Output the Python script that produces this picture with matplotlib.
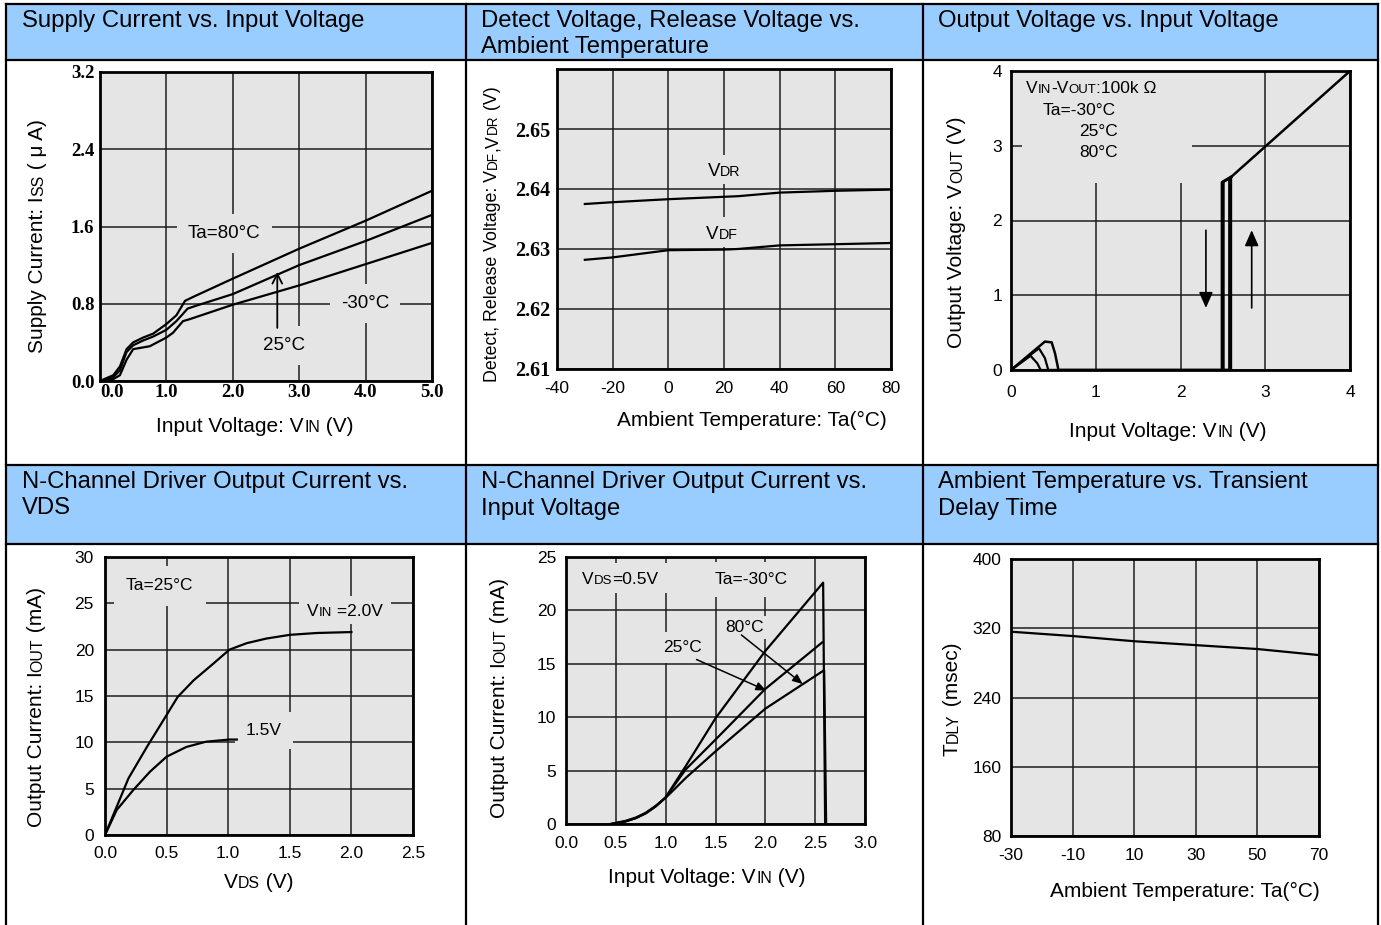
import matplotlib
matplotlib.use("Agg")
import matplotlib.pyplot as plt
from matplotlib.patches import Rectangle
from matplotlib.lines import Line2D
from matplotlib import ft2font
from matplotlib.font_manager import findfont, FontProperties

# ---------------- data ----------------
titles = [
    ["Supply Current vs. Input Voltage"],
    ["Detect Voltage, Release Voltage vs.", "Ambient Temperature"],
    ["Output Voltage vs. Input Voltage"],
    ["N-Channel Driver Output Current vs.", "VDS"],
    ["N-Channel Driver Output Current vs.", "Input Voltage"],
    ["Ambient Temperature vs. Transient", "Delay Time"],
]

# Panel 1: supply current vs input voltage
p1_xticks = [0, 1, 2, 3, 4, 5]
p1_xticklabels = ["0.0", "1.0", "2.0", "3.0", "4.0", "5.0"]
p1_yticks = [0.0, 0.8, 1.6, 2.4, 3.2]
p1_yticklabels = ["0.0", "0.8", "1.6", "2.4", "3.2"]
p1_vin_80 = [0, 0.2, 0.3, 0.4, 0.5, 0.65, 0.8, 1.0, 1.15, 1.28, 1.4, 2.0, 3.0, 4.0, 5.0]
p1_iss_80 = [0, 0.06, 0.15, 0.33, 0.40, 0.45, 0.49, 0.59, 0.68, 0.83, 0.87, 1.06, 1.37, 1.66, 1.97]
p1_vin_25 = [0, 0.2, 0.3, 0.4, 0.5, 0.65, 0.8, 1.0, 1.15, 1.32, 1.45, 2.0, 3.0, 4.0, 5.0]
p1_iss_25 = [0, 0.04, 0.11, 0.30, 0.37, 0.42, 0.46, 0.53, 0.62, 0.75, 0.78, 0.90, 1.20, 1.45, 1.72]
p1_vin_m30 = [0, 0.2, 0.3, 0.4, 0.5, 0.75, 1.0, 1.1, 1.25, 1.35, 2.0, 3.0, 4.0, 5.0]
p1_iss_m30 = [0, 0.02, 0.06, 0.22, 0.33, 0.36, 0.45, 0.50, 0.62, 0.64, 0.79, 0.99, 1.21, 1.43]

# Panel 2: detect / release voltage vs temperature
p2_xticks = [-40, -20, 0, 20, 40, 60, 80]
p2_xticklabels = ["-40", "-20", "0", "20", "40", "60", "80"]
p2_yticks = [2.61, 2.62, 2.63, 2.64, 2.65]
p2_yticklabels = ["2.61", "2.62", "2.63", "2.64", "2.65"]
p2_ta = [-30, -20, 0, 20, 25, 40, 60, 80]
p2_vdr = [2.6375, 2.6378, 2.6383, 2.6387, 2.6388, 2.6394, 2.6397, 2.6399]
p2_vdf = [2.6282, 2.6286, 2.6298, 2.6299, 2.6300, 2.6306, 2.6308, 2.6310]

# Panel 3: output voltage vs input voltage
p3_ticks = [0, 1, 2, 3, 4]
p3_ticklabels = ["0", "1", "2", "3", "4"]
p3_vin_m30 = [0.0, 0.23, 0.31, 0.35, 2.575, 2.575]
p3_vout_m30 = [0.0, 0.19, 0.09, 0.0, 0.0, 2.56]
p3_vin_25 = [0.0, 0.33, 0.40, 0.44, 2.585, 2.585]
p3_vout_25 = [0.0, 0.29, 0.16, 0.0, 0.0, 2.57]
p3_vin_80 = [0.0, 0.40, 0.48, 0.52, 0.56, 2.595, 2.595, 4.0]
p3_vout_80 = [0.0, 0.38, 0.37, 0.22, 0.0, 0.0, 2.58, 4.0]
p3_det_vin_a = [2.595, 2.49, 2.49]
p3_det_vout_a = [2.58, 2.51, 0.0]
p3_det_vin_b = [2.595, 2.505, 2.505]
p3_det_vout_b = [2.58, 2.52, 0.0]

# Panel 4: output current vs VDS
p4_xticks = [0, 0.5, 1.0, 1.5, 2.0, 2.5]
p4_xticklabels = ["0.0", "0.5", "1.0", "1.5", "2.0", "2.5"]
p4_yticks = [0, 5, 10, 15, 20, 25, 30]
p4_yticklabels = ["0", "5", "10", "15", "20", "25", "30"]
p4_vds_20 = [0, 0.19, 0.34, 0.5, 0.59, 0.72, 0.88, 1.01, 1.15, 1.31, 1.5, 1.72, 2.0]
p4_iout_20 = [0, 6.1, 9.5, 12.95, 14.9, 16.7, 18.5, 20.0, 20.7, 21.2, 21.6, 21.8, 21.9]
p4_vds_15 = [0, 0.095, 0.23, 0.365, 0.5, 0.66, 0.82, 1.01, 1.07]
p4_iout_15 = [0, 2.7, 4.86, 6.83, 8.45, 9.5, 10.07, 10.3, 10.3]

# Panel 5: output current vs input voltage
p5_xticks = [0, 0.5, 1.0, 1.5, 2.0, 2.5, 3.0]
p5_xticklabels = ["0.0", "0.5", "1.0", "1.5", "2.0", "2.5", "3.0"]
p5_yticks = [0, 5, 10, 15, 20, 25]
p5_yticklabels = ["0", "5", "10", "15", "20", "25"]
p5_vin_m30 = [0.45, 0.6, 0.7, 0.8, 0.9, 1.0, 1.2, 1.5, 2.0, 2.58, 2.60]
p5_iout_m30 = [0, 0.25, 0.55, 1.0, 1.65, 2.5, 5.4, 9.9, 16.2, 22.6, 0]
p5_vin_25 = [0.45, 0.6, 0.7, 0.8, 0.9, 1.0, 1.2, 1.5, 2.0, 2.57]
p5_iout_25 = [0, 0.25, 0.55, 1.0, 1.65, 2.5, 5.1, 7.9, 12.65, 17.0]
p5_vin_80 = [0.45, 0.6, 0.7, 0.8, 0.9, 1.0, 1.2, 1.5, 2.0, 2.59, 2.61]
p5_iout_80 = [0, 0.3, 0.6, 1.05, 1.7, 2.45, 4.3, 6.8, 10.8, 14.4, 0]

# Panel 6: delay time vs temperature
p6_xticks = [-30, -10, 10, 30, 50, 70]
p6_xticklabels = ["-30", "-10", "10", "30", "50", "70"]
p6_yticks = [80, 160, 240, 320, 400]
p6_yticklabels = ["80", "160", "240", "320", "400"]
p6_ta = [-30, -10, 10, 30, 50, 70]
p6_tdly = [316, 311, 305, 300.5, 296, 289]

# ---------------- figure ----------------
W, H = 1381, 925
plt.rcParams['font.family'] = ['Liberation Sans', 'DejaVu Sans']
fig = plt.figure(figsize=(W / 100, H / 100), dpi=100)
fig.patch.set_facecolor('white')

SERIF = ['Liberation Serif', 'DejaVu Serif']
BG = '#e5e5e5'
HEAD = '#99ccff'
GRID = '#1e1e1e'
SC = 0.76
LW = 1.6

_FONT = ft2font.FT2Font(findfont(FontProperties(family='Liberation Sans')))


def fx(x):
    return x / W


def fy(y):
    return 1.0 - y / H


def seg_advance(s, size):
    """Pen advance (px) of string s at the given point size."""
    _FONT.set_size(size, 100)
    pen = 0.0
    for c in s:
        g = _FONT.load_char(ord(c))
        pen += g.linearHoriAdvance / 65536.0
    return pen


def sc_text(cont, x, y, parts, size, rot=0, ha='center', bg=None, pad=0, zorder=3):
    """Text with small-caps segments; (x, y) = anchor on baseline in image pixels."""
    advs = [seg_advance(s, size * (SC if small else 1.0)) for s, small in parts]
    total = sum(advs)
    start = {'center': -total / 2, 'left': 0.0, 'right': -total}[ha]
    pen = start
    for (s, small), adv in zip(parts, advs):
        if rot == 0:
            xx, yy = x + pen, y
        else:
            xx, yy = x, y - pen
        cont.text(fx(xx), fy(yy), s, fontsize=size * (SC if small else 1.0),
                  rotation=rot, rotation_mode='anchor', ha='left', va='baseline',
                  transform=fig.transFigure, zorder=zorder)
        pen += adv
    if bg is not None:
        cap = size * 100 / 72 * 0.72
        x0 = x + start - pad
        x1 = x + start + total + pad
        y0 = y - cap - pad
        y1 = y + pad
        cont.add_patch(Rectangle((fx(x0), fy(y1)), (x1 - x0) / W, (y1 - y0) / H,
                                 transform=fig.transFigure, facecolor=bg,
                                 edgecolor='none', zorder=zorder - 0.5))


def make_ax(l, t, r, b):
    ax = fig.add_axes([fx(l), fy(b), (r - l) / W, (b - t) / H])
    ax.set_facecolor(BG)
    for s in ax.spines.values():
        s.set_linewidth(2.0)
        s.set_color('black')
    ax.grid(True, color=GRID, linewidth=1.1)
    ax.set_axisbelow(True)
    ax.tick_params(length=0, colors='black')
    return ax


def atext(ax, x, y, s, size, bbox_pad=None):
    kw = {}
    if bbox_pad is not None:
        kw['bbox'] = dict(facecolor=BG, edgecolor='none', pad=bbox_pad)
    ax.text(fx(x), fy(y), s, fontsize=size, ha='left', va='baseline',
            transform=fig.transFigure, zorder=1.5, **kw)


# table: header fills and borders
for y0, y1 in [(4, 60), (465, 544)]:
    fig.add_artist(Rectangle((fx(6), fy(y1)), (1378 - 6) / W, (y1 - y0) / H,
                             transform=fig.transFigure, facecolor=HEAD,
                             edgecolor='none', zorder=0))
for x in [6, 466, 923, 1378]:
    fig.add_artist(Line2D([fx(x), fx(x)], [fy(4), fy(925)], transform=fig.transFigure,
                          color='black', lw=1.6))
for y in [4, 60, 465, 544]:
    fig.add_artist(Line2D([fx(6), fx(1378)], [fy(y), fy(y)], transform=fig.transFigure,
                          color='black', lw=1.6))

head_pos = [(22, 27), (481, 27), (938, 27), (22, 488), (481, 488), (938, 488)]
for (x, y), lines in zip(head_pos, titles):
    for i, s in enumerate(lines):
        fig.text(fx(x), fy(y + 26.5 * i), s, fontsize=17.2, ha='left', va='baseline')

# ---------------- panel 1 ----------------
ax1 = make_ax(100, 72, 432, 381)
ax1.set_xlim(0, 5)
ax1.set_ylim(0, 3.2)
ax1.set_xticks(p1_xticks, p1_xticklabels, fontfamily=SERIF, fontweight='bold', fontsize=13.5)
ax1.set_yticks(p1_yticks, p1_yticklabels, fontfamily=SERIF, fontweight='bold', fontsize=13.5)
ax1.tick_params(axis='x', pad=2)
ax1.tick_params(axis='y', pad=4)
ax1.get_xticklabels()[0].set_ha('left')
ax1.plot(p1_vin_80, p1_iss_80, color='black', lw=LW)
ax1.plot(p1_vin_25, p1_iss_25, color='black', lw=LW)
ax1.plot(p1_vin_m30, p1_iss_m30, color='black', lw=LW)
atext(ax1, 188, 238, "Ta=80°C", 13.5, bbox_pad=8)
atext(ax1, 341, 308, "-30°C", 13.5, bbox_pad=8)
atext(ax1, 263, 350, "25°C", 13.5, bbox_pad=8)
ax1.annotate('', xy=(2.67, 1.13), xytext=(2.67, 0.55),
             arrowprops=dict(arrowstyle='->,head_length=0.7,head_width=0.35',
                             color='black', lw=1.3, shrinkA=0, shrinkB=0))
sc_text(fig, 255, 432, [("Input Voltage: V", 0), ("IN", 1), (" (V)", 0)], 15)
sc_text(fig, 43, 235, [("Supply Current: I", 0), ("SS", 1), (" ( μ A)", 0)], 15, rot=90)

# ---------------- panel 2 ----------------
ax2 = make_ax(557, 69, 891, 369)
ax2.set_xlim(-40, 80)
ax2.set_ylim(2.61, 2.66)
ax2.set_xticks(p2_xticks, p2_xticklabels, fontsize=12.5)
ax2.set_yticks(p2_yticks, p2_yticklabels, fontfamily=SERIF, fontweight='bold', fontsize=14.5)
ax2.tick_params(axis='x', pad=9)
ax2.tick_params(axis='y', pad=5)
ax2.plot(p2_ta, p2_vdr, color='black', lw=LW)
ax2.plot(p2_ta, p2_vdf, color='black', lw=LW)
sc_text(ax2, 724, 176, [("V", 0), ("DR", 1)], 13.5, bg=BG, pad=8, zorder=1.6)
sc_text(ax2, 722, 239, [("V", 0), ("DF", 1)], 13.5, bg=BG, pad=8, zorder=1.6)
sc_text(fig, 755, 426, [("Ambient Temperature: Ta(°C)", 0)], 15)
sc_text(fig, 497, 234, [("Detect, Release Voltage: V", 0), ("DF", 1), (",V", 0), ("DR", 1),
                        (" (V)", 0)], 12.8, rot=90)

# ---------------- panel 3 ----------------
ax3 = make_ax(1011, 71, 1350, 370)
ax3.set_xlim(0, 4)
ax3.set_ylim(0, 4)
ax3.set_xticks(p3_ticks, p3_ticklabels, fontsize=12.5)
ax3.set_yticks(p3_ticks, p3_ticklabels, fontsize=12.5)
ax3.tick_params(axis='x', pad=11)
ax3.tick_params(axis='y', pad=6.5)
ax3.add_patch(Rectangle((0.13, 2.5), 2.0, 1.5, facecolor=BG, edgecolor='none', zorder=1))
ax3.plot(p3_vin_m30, p3_vout_m30, color='black', lw=1.6)
ax3.plot(p3_vin_25, p3_vout_25, color='black', lw=1.6)
ax3.plot(p3_vin_80, p3_vout_80, color='black', lw=1.8)
ax3.plot(p3_det_vin_a, p3_det_vout_a, color='black', lw=2.0)
ax3.plot(p3_det_vin_b, p3_det_vout_b, color='black', lw=2.0)
ax3.annotate('', xy=(2.30, 0.83), xytext=(2.30, 1.87),
             arrowprops=dict(arrowstyle='-|>,head_length=0.95,head_width=0.42',
                             color='black', lw=1.2, shrinkA=0, shrinkB=0))
ax3.annotate('', xy=(2.84, 1.87), xytext=(2.84, 0.83),
             arrowprops=dict(arrowstyle='-|>,head_length=0.95,head_width=0.42',
                             color='black', lw=1.2, shrinkA=0, shrinkB=0))
sc_text(ax3, 1026, 93, [("V", 0), ("IN", 1), ("-V", 0), ("OUT", 1), (":100k Ω", 0)], 12.5,
        ha='left', zorder=2)
sc_text(ax3, 1118, 115, [("Ta=-30°C", 0)], 12.5, ha='right', zorder=2)
sc_text(ax3, 1118, 136, [("25°C", 0)], 12.5, ha='right', zorder=2)
sc_text(ax3, 1118, 157, [("80°C", 0)], 12.5, ha='right', zorder=2)
sc_text(fig, 1168, 437, [("Input Voltage: V", 0), ("IN", 1), (" (V)", 0)], 15)
sc_text(fig, 962, 232, [("Output Voltage: V", 0), ("OUT", 1), (" (V)", 0)], 15, rot=90)

# ---------------- panel 4 ----------------
ax4 = make_ax(105, 557, 413, 835)
ax4.set_xlim(0, 2.5)
ax4.set_ylim(0, 30)
ax4.set_xticks(p4_xticks, p4_xticklabels, fontsize=12.5)
ax4.set_yticks(p4_yticks, p4_yticklabels, fontsize=12.5)
ax4.tick_params(axis='x', pad=8)
ax4.tick_params(axis='y', pad=8)
ax4.plot(p4_vds_20, p4_iout_20, color='black', lw=LW)
ax4.plot(p4_vds_15, p4_iout_15, color='black', lw=LW)
atext(ax4, 126, 590, "Ta=25°C", 12.5, bbox_pad=9)
sc_text(ax4, 307, 616, [("V", 0), ("IN", 1), (" =2.0V", 0)], 12.5, ha='left', bg=BG, pad=8,
        zorder=1.6)
atext(ax4, 246, 735, "1.5V", 12.5, bbox_pad=8)
sc_text(fig, 259, 888, [("V", 0), ("DS", 1), (" (V)", 0)], 15)
sc_text(fig, 42, 707, [("Output Current: I", 0), ("OUT", 1), (" (mA)", 0)], 15, rot=90)

# ---------------- panel 5 ----------------
ax5 = make_ax(566, 557, 865, 824)
ax5.set_xlim(0, 3.0)
ax5.set_ylim(0, 25)
ax5.set_xticks(p5_xticks, p5_xticklabels, fontsize=12.5)
ax5.set_yticks(p5_yticks, p5_yticklabels, fontsize=12.5)
ax5.tick_params(axis='x', pad=9)
ax5.tick_params(axis='y', pad=7)
ax5.plot(p5_vin_m30, p5_iout_m30, color='black', lw=LW)
ax5.plot(p5_vin_25, p5_iout_25, color='black', lw=LW)
ax5.plot(p5_vin_80, p5_iout_80, color='black', lw=LW)
sc_text(ax5, 582, 584, [("V", 0), ("DS", 1), ("=0.5V", 0)], 12.5, ha='left', bg=BG, pad=9,
        zorder=1.6)
atext(ax5, 715, 584, "Ta=-30°C", 12.5, bbox_pad=7)
atext(ax5, 725, 632, "80°C", 12.5, bbox_pad=3)
atext(ax5, 663, 652, "25°C", 12.5, bbox_pad=6)
ax5.annotate('', xy=(2.01, 12.5), xytext=(1.31, 15.4),
             arrowprops=dict(arrowstyle='-|>,head_length=0.6,head_width=0.25',
                             color='black', lw=1.1, shrinkA=0, shrinkB=0))
ax5.annotate('', xy=(2.376, 13.1), xytext=(1.76, 17.7),
             arrowprops=dict(arrowstyle='-|>,head_length=0.6,head_width=0.25',
                             color='black', lw=1.1, shrinkA=0, shrinkB=0))
sc_text(fig, 707, 883, [("Input Voltage: V", 0), ("IN", 1), (" (V)", 0)], 15)
sc_text(fig, 505, 698, [("Output Current: I", 0), ("OUT", 1), (" (mA)", 0)], 15, rot=90)

# ---------------- panel 6 ----------------
ax6 = make_ax(1011, 559, 1319, 836)
ax6.set_xlim(-30, 70)
ax6.set_ylim(80, 400)
ax6.set_xticks(p6_xticks, p6_xticklabels, fontsize=12.5)
ax6.set_yticks(p6_yticks, p6_yticklabels, fontsize=12.5)
ax6.tick_params(axis='x', pad=9)
ax6.tick_params(axis='y', pad=7)
ax6.plot(p6_ta, p6_tdly, color='black', lw=LW)
sc_text(fig, 1187.5, 897, [("Ambient Temperature: Ta(°C)", 0)], 15)
sc_text(fig, 958, 699, [("T", 0), ("DLY", 1), (" (msec)", 0)], 15, rot=90)

fig.savefig("out.png", dpi=100)
